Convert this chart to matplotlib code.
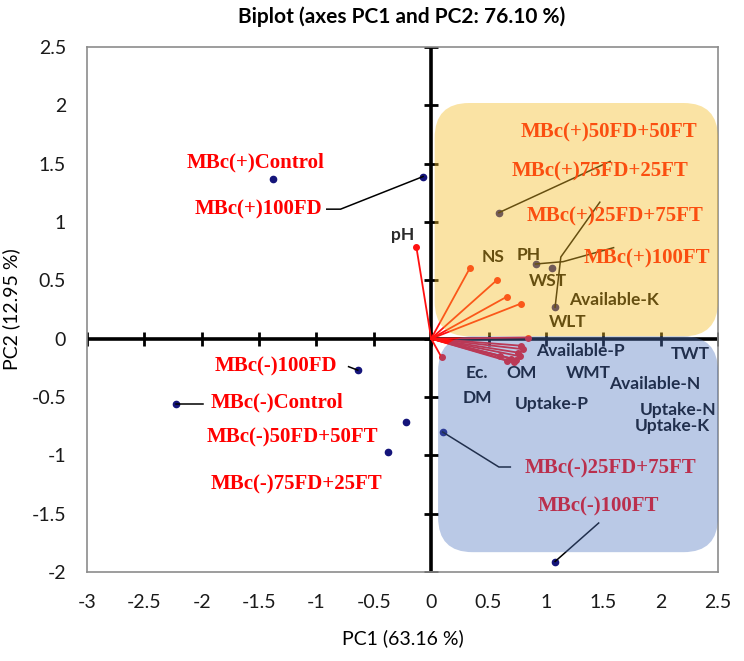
import matplotlib.pyplot as plt
from matplotlib.patches import FancyBboxPatch

obs_names = ['MBc(+)Control', 'MBc(+)100FD', 'MBc(+)75FD+25FT', 'MBc(+)50FD+50FT',
             'MBc(+)25FD+75FT', 'MBc(+)100FT',
             'MBc(-)Control', 'MBc(-)100FD', 'MBc(-)75FD+25FT', 'MBc(-)50FD+50FT',
             'MBc(-)25FD+75FT', 'MBc(-)100FT']
obs_pc1 = [-1.38, -0.07, 1.05, 0.59, 1.08, 0.91,
           -2.22, -0.64, -0.38, -0.22, 0.10, 1.08]
obs_pc2 = [1.37, 1.39, 0.61, 1.08, 0.27, 0.64,
           -0.56, -0.27, -0.97, -0.71, -0.80, -1.91]

# variables (loadings)
var_names = ['pH', 'NS', 'PH', 'WST', 'WLT', 'Available-K', 'Ec.', 'DM', 'OM',
             'Available-P', 'WMT', 'TWT', 'Available-N', 'Uptake-P', 'Uptake-N', 'Uptake-K']
var_pc1 = [-0.13, 0.34, 0.57, 0.66, 0.78, 0.84, 0.09, 0.70, 0.66,
           0.78, 0.76, 0.80, 0.77, 0.60, 0.74, 0.72]
var_pc2 = [0.79, 0.61, 0.50, 0.36, 0.30, 0.01, -0.16, -0.17, -0.19,
           -0.06, -0.12, -0.09, -0.15, -0.15, -0.18, -0.20]

xticks = [-3, -2.5, -2, -1.5, -1, -0.5, 0, 0.5, 1, 1.5, 2, 2.5]
yticks = [-2, -1.5, -1, -0.5, 0, 0.5, 1, 1.5, 2, 2.5]

# where the labels sit (Excel moved them by hand)
obs_label_xy = {
    'MBc(+)Control': (-1.53, 1.51), 'MBc(+)100FD': (-1.51, 1.11),
    'MBc(+)50FD+50FT': (1.55, 1.77), 'MBc(+)75FD+25FT': (1.47, 1.43),
    'MBc(+)25FD+75FT': (1.60, 1.05), 'MBc(+)100FT': (1.88, 0.69),
    'MBc(-)100FD': (-1.35, -0.24), 'MBc(-)Control': (-1.34, -0.55),
    'MBc(-)50FD+50FT': (-1.21, -0.85), 'MBc(-)75FD+25FT': (-1.17, -1.25),
    'MBc(-)25FD+75FT': (1.56, -1.11), 'MBc(-)100FT': (1.46, -1.44),
}
# leader lines: from the point through these waypoints
leaders = {
    'MBc(+)100FD': [(-0.79, 1.11), (-0.91, 1.11)],
    'MBc(+)50FD+50FT': [(1.56, 1.52)],
    'MBc(+)25FD+75FT': [(1.13, 0.70), (1.47, 1.17)],
    'MBc(+)100FT': [(1.15, 0.66), (1.59, 0.78)],
    'MBc(-)100FD': [(-0.72, -0.24)],
    'MBc(-)Control': [(-2.16, -0.56), (-1.99, -0.56)],
    'MBc(-)25FD+75FT': [(0.59, -1.10), (0.69, -1.10)],
    'MBc(-)100FT': [(1.46, -1.58)],
}
var_label_xy = {
    'pH': (-0.25, 0.89), 'NS': (0.54, 0.70), 'PH': (0.85, 0.72), 'WST': (1.02, 0.49),
    'Available-K': (1.59, 0.33), 'WLT': (1.19, 0.14), 'Available-P': (1.30, -0.11),
    'TWT': (2.26, -0.13), 'Ec.': (0.40, -0.29), 'OM': (0.79, -0.29), 'WMT': (1.37, -0.29),
    'Available-N': (1.95, -0.39), 'DM': (0.40, -0.51), 'Uptake-P': (1.05, -0.56),
    'Uptake-N': (2.15, -0.61), 'Uptake-K': (2.10, -0.75),
}

W, H = 744, 661
fig = plt.figure(figsize=(W / 100, H / 100), dpi=100)
ax = fig.add_axes([87 / W, (H - 572) / H, 631 / W, 525 / H])
ax.set_xlim(-3, 2.5)
ax.set_ylim(-2, 2.5)

for s in ax.spines.values():
    s.set_color('#8c8c8c')
    s.set_linewidth(1.2)

ax.set_xticks(xticks)
ax.set_xticklabels([f'{t:g}' for t in xticks])
ax.set_yticks(yticks)
ax.set_yticklabels([f'{t:g}' for t in yticks])
ax.tick_params(length=0, labelsize=14, labelcolor='#1a1a1a')
ax.tick_params(axis='x', pad=16)
ax.tick_params(axis='y', pad=15)
for lab in ax.get_xticklabels() + ax.get_yticklabels():
    lab.set_family('Lato')

# central axes with tick marks
ax.axhline(0, color='black', lw=2.6, zorder=2)
ax.axvline(0, color='black', lw=2.6, zorder=2)
ax.plot(xticks, [0] * len(xticks), ls='none', marker='|', ms=10, mew=2, color='black', zorder=2)
ax.plot([0] * len(yticks), yticks, ls='none', marker='_', ms=10, mew=2, color='black', zorder=2)

# variable vectors
for n, x, y in zip(var_names, var_pc1, var_pc2):
    ax.plot([0, x], [0, y], color='#ff1010', lw=1.3, zorder=4)
    ax.plot(x, y, 'o', color='#ff1010', ms=4, zorder=4)
    lx, ly = var_label_xy[n]
    ax.text(lx, ly, n, ha='center', va='center', fontsize=12.5, family='Lato',
            fontweight='bold', color='#2b2b2b' if n == 'pH' else 'black', zorder=5)

# observations
ax.plot(obs_pc1, obs_pc2, 'o', color='#14147a', ms=4.5, zorder=4)
for n, x, y in zip(obs_names, obs_pc1, obs_pc2):
    if n in leaders:
        pts = [(x, y)] + leaders[n]
        ax.plot([p[0] for p in pts], [p[1] for p in pts], color='black', lw=1.1, zorder=4)
    lx, ly = obs_label_xy[n]
    ax.text(lx, ly, n, ha='center', va='center', fontsize=15, family='Liberation Serif',
            fontweight='bold', color='#ff0000', zorder=5)

# translucent highlight boxes drawn over the marks
ax.add_patch(FancyBboxPatch((0.03, 0.02), 2.47, 2.0, boxstyle='round,pad=0,rounding_size=0.3',
                            fc='#f5be28', ec='none', alpha=0.42, zorder=10))
ax.add_patch(FancyBboxPatch((0.06, -1.83), 2.44, 1.85, boxstyle='round,pad=0,rounding_size=0.3',
                            fc='#5378c1', ec='none', alpha=0.4, zorder=10))

ax.set_xlabel('PC1 (63.16 %)', fontsize=14, family='Lato', labelpad=13)
ax.set_ylabel('PC2 (12.95 %)', fontsize=14, family='Lato', labelpad=8)
fig.text(402 / W, 1 - 17 / H, 'Biplot (axes PC1 and PC2: 76.10 %)', ha='center', va='center',
         fontsize=15, family='Lato', fontweight='bold')

fig.savefig('out.png', dpi=100)
